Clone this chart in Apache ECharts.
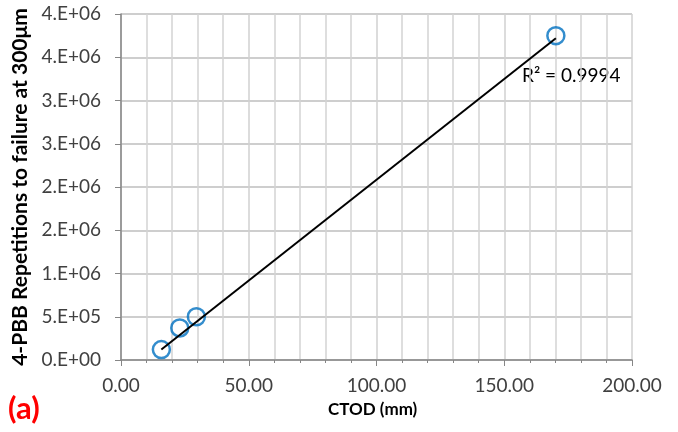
<!DOCTYPE html>
<html>
<head>
<meta charset="utf-8">
<script src="https://cdn.jsdelivr.net/npm/echarts@6/dist/echarts.min.js"></script>
<style>
  html, body { margin: 0; padding: 0; background: #fff; }
  #chart { width: 678px; height: 432px; }
</style>
</head>
<body>
<div id="chart"></div>
<script>
// measured points (CTOD mm, repetitions)
const ctod = [15.8, 23.0, 29.5, 170.2];
const repetitions = [1.2e5, 3.7e5, 5.0e5, 3.75e6];
// trendline end points as drawn
const trendX = [15.8, 170.2];
const trendY = [1.21e5, 3.72e6];
const xTickLabels = ["0.00", "50.00", "100.00", "150.00", "200.00"];
const yTickLabels = ["0.E+00", "5.E+05", "1.E+06", "2.E+06", "2.E+06", "3.E+06", "3.E+06", "4.E+06", "4.E+06"];

const font = "Lato";
const chart = echarts.init(document.getElementById("chart"), null, { renderer: "canvas" });

chart.setOption({
  animation: false,
  grid: { left: 121, right: 46, top: 14, bottom: 72 },
  xAxis: {
    type: "value",
    min: 0,
    max: 200,
    interval: 50,
    axisLine: { show: true, lineStyle: { color: "#868686", width: 1.5 } },
    axisTick: { show: true, length: 6, lineStyle: { color: "#868686" } },
    minorTick: { show: true, splitNumber: 5, length: 3, lineStyle: { color: "#868686" } },
    splitLine: { show: true, lineStyle: { color: "#d0d0d0", width: 1.5 } },
    minorSplitLine: { show: true, lineStyle: { color: "#d4d4d4", width: 1.5 } },
    axisLabel: {
      color: "#404040", fontSize: 19, fontFamily: font, margin: 16,
      formatter: (v) => xTickLabels[Math.round(v / 50)],
    },
  },
  yAxis: {
    type: "value",
    min: 0,
    max: 4e6,
    interval: 5e5,
    name: "4-PBB Repetitions to failure at 300μm",
    nameLocation: "middle",
    nameGap: 88,
    nameTextStyle: { color: "#000", fontSize: 21, fontWeight: "bold", fontFamily: font },
    axisLine: { show: true, lineStyle: { color: "#868686", width: 1.5 } },
    axisTick: { show: true, length: 6, lineStyle: { color: "#868686" } },
    splitLine: { show: true, lineStyle: { color: "#bebebe", width: 1.5 } },
    axisLabel: {
      color: "#404040", fontSize: 19, fontFamily: font, margin: 20,
      formatter: (v) => yTickLabels[Math.round(v / 5e5)],
    },
  },
  series: [
    {
      type: "line",
      data: trendX.map((x, i) => [x, trendY[i]]),
      symbol: "none",
      lineStyle: { color: "#000", width: 2 },
      z: 3,
      silent: true,
    },
    {
      type: "scatter",
      data: ctod.map((x, i) => [x, repetitions[i]]),
      symbol: "circle",
      symbolSize: 17,
      itemStyle: { color: "rgba(255,255,255,0)", borderColor: "#0070c0", borderWidth: 2.5 },
      z: 2,
    },
  ],
  graphic: [
    {
      type: "text",
      left: 522,
      top: 66,
      style: { text: "R² = 0.9994", fill: "#000", fontSize: 19, fontFamily: font },
    },
    {
      type: "text",
      left: 328,
      top: 401,
      style: { text: "CTOD (mm)", fill: "#000", fontSize: 17, fontWeight: "bold", fontFamily: font },
    },
    {
      type: "text",
      left: 8,
      top: 393,
      style: { text: "(a)", fill: "#ff0000", fontSize: 31, fontWeight: "bold", fontFamily: font },
    },
  ],
});
</script>
</body>
</html>
